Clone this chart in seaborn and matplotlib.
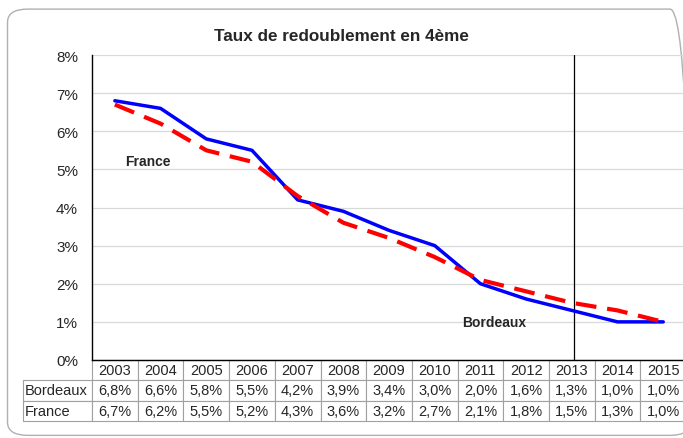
import matplotlib
matplotlib.use('Agg')
import matplotlib.pyplot as plt
import seaborn as sns
import pandas as pd
from matplotlib.patches import FancyBboxPatch

years = [2003, 2004, 2005, 2006, 2007, 2008, 2009, 2010, 2011, 2012, 2013, 2014, 2015]
bordeaux = [6.8, 6.6, 5.8, 5.5, 4.2, 3.9, 3.4, 3.0, 2.0, 1.6, 1.3, 1.0, 1.0]
france = [6.7, 6.2, 5.5, 5.2, 4.3, 3.6, 3.2, 2.7, 2.1, 1.8, 1.5, 1.3, 1.0]
y_ticks = [0, 1, 2, 3, 4, 5, 6, 7, 8]
marker_year = 2013

df = pd.DataFrame({'annee': years, 'Bordeaux': bordeaux, 'France': france})

sns.set_style('white')
plt.rcParams['font.family'] = ['Liberation Sans', 'DejaVu Sans']

fig = plt.figure(figsize=(6.83, 4.39), dpi=100)

# rounded frame around the whole chart
frame = FancyBboxPatch((0.011, 0.006), 1.0, 0.971, boxstyle='round,pad=0,rounding_size=0.03',
                       transform=fig.transFigure, facecolor='none', edgecolor='#b0b0b0',
                       linewidth=1.0, zorder=-1)
fig.patches.append(frame)

axes_w_px = 13 * 45.7
ax = fig.add_axes([92 / 683, 78 / 439, axes_w_px / 683, 305 / 439])
ax.set_facecolor('none')

sns.lineplot(data=df, x='annee', y='Bordeaux', ax=ax, color='#0000ff', linewidth=2.5, zorder=3)
sns.lineplot(data=df, x='annee', y='France', ax=ax, color='#ff0000', linewidth=3.0,
             dashes=(5, 2.6), zorder=4)

ax.axvline(marker_year + 0.05, color='black', linewidth=0.9, zorder=2)

ax.set_xlim(years[0] - 0.5, years[-1] + 0.5)
ax.set_ylim(0, 8)
ax.set_yticks(y_ticks)
ax.set_yticklabels([f'{t}%' for t in y_ticks], fontsize=11)
ax.set_xticks([])
ax.tick_params(axis='y', length=4, width=0.8, color='#808080', pad=6)
ax.grid(True, axis='y', color='#d9d9d9', linewidth=0.9)
ax.set_xlabel('')
ax.set_ylabel('')
for side in ['top', 'right']:
    ax.spines[side].set_visible(False)
for side in ['left', 'bottom']:
    ax.spines[side].set_color('black')
    ax.spines[side].set_linewidth(1.0)
    ax.spines[side].set_zorder(5)

fig.text(0.5, 0.916, 'Taux de redoublement en 4ème', fontsize=12.3, fontweight='bold',
         ha='center', va='center')

ax.text(2003.72, 5.22, 'France', fontsize=10, fontweight='bold', ha='center', va='center')
ax.text(2011.3, 1.0, 'Bordeaux', fontsize=10, fontweight='bold', ha='center', va='center')

# data table under the chart: first column holds the series names
fmt = lambda v: f'{v:.1f}%'.replace('.', ',')
cell_text = [['Bordeaux'] + [fmt(v) for v in bordeaux],
             ['France'] + [fmt(v) for v in france]]
label_w = 69.0
col_w = axes_w_px / 13
widths = [label_w] + [col_w] * 13
widths = [w / sum(widths) for w in widths]
rw = label_w / axes_w_px
tb = ax.table(cellText=cell_text, colLabels=[''] + [str(y) for y in years],
              cellLoc='center', colWidths=widths, bbox=[-rw, -0.2, 1 + rw, 0.2])
tb.auto_set_font_size(False)
tb.set_fontsize(10.5)
for (r, c), cell in tb.get_celld().items():
    cell.set_edgecolor('#a0a0a0')
    cell.set_linewidth(0.8)
    if c == 0:
        cell.set_text_props(ha='left')
        cell.PAD = 0.03
        if r == 0:
            cell.visible_edges = ''

fig.savefig('out.png', dpi=100)
